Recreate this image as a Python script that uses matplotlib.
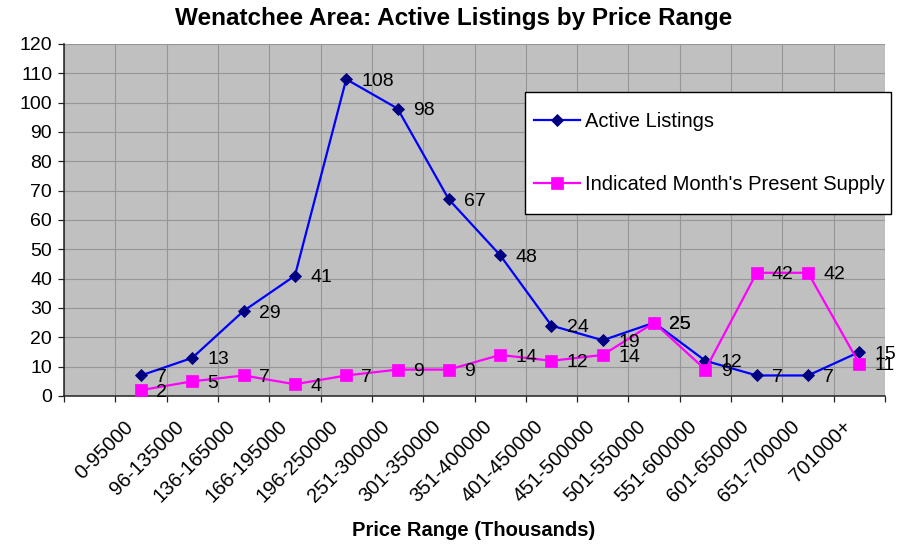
import numpy as np
import matplotlib
matplotlib.use("Agg")
import matplotlib.pyplot as plt
from matplotlib.patches import Rectangle
from matplotlib.transforms import ScaledTranslation

plt.rcParams['font.family'] = ['Liberation Sans', 'DejaVu Sans']

# the chart keeps an empty first category slot
categories = ['', '0-95000', '96-135000', '136-165000', '166-195000', '196-250000',
              '251-300000', '301-350000', '351-400000', '401-450000', '451-500000',
              '501-550000', '551-600000', '601-650000', '651-700000', '701000+']
active_listings = [np.nan, 7, 13, 29, 41, 108, 98, 67, 48, 24, 19, 25, 12, 7, 7, 15]
months_supply = [np.nan, 2, 5, 7, 4, 7, 9, 9, 14, 12, 14, 25, 9, 42, 42, 11]
y_ticks = list(range(0, 121, 10))

W, H = 906, 546
fig = plt.figure(figsize=(W / 100, H / 100), dpi=100)
ax = fig.add_axes([64 / W, 150 / H, 821 / W, 352 / H])
ax.set_facecolor('#C0C0C0')

n = len(categories)
x = np.arange(n) + 0.5

l1, = ax.plot(x, active_listings, color='#0000FF', lw=1.6, marker='D', ms=5.8,
              mfc='#000080', mec='#000080', mew=0.6, zorder=3, label='Active Listings')
l2, = ax.plot(x, months_supply, color='#FF00FF', lw=1.6, marker='s', ms=8.5,
              mfc='#FF00FF', mec='#FF00FF', mew=0.5, zorder=4,
              label="Indicated Month's Present Supply")

for series in (active_listings, months_supply):
    for xi, v in zip(x, series):
        if np.isnan(v):
            continue
        ax.annotate(str(int(v)), (xi, v), xytext=(11, -1.5), textcoords='offset points',
                    ha='left', va='center', fontsize=14, color='black', zorder=5)

ax.set_xlim(0, n)
ax.set_ylim(0, 120)
ax.set_yticks(y_ticks)
ax.set_xticks(np.arange(n + 1))
ax.set_xticklabels([])
ax.set_xticks(x[1:], minor=True)
ax.set_xticklabels(categories[1:], minor=True)

ax.grid(True, which='major', color='#969696', lw=0.8, zorder=1)
ax.set_axisbelow(True)

for s in ('top', 'right'):
    ax.spines[s].set_visible(False)
for s in ('left', 'bottom'):
    ax.spines[s].set_color('#222222')
    ax.spines[s].set_linewidth(1.1)

ax.tick_params(axis='y', direction='out', length=4.5, width=0.9, color='#222222',
               labelsize=14, pad=4)
ax.tick_params(axis='x', which='major', direction='out', length=4.5, width=0.9,
               color='#222222')
ax.tick_params(axis='x', which='minor', length=0, pad=20, labelsize=14.5)

shift = ScaledTranslation(-11 / 100, 0, fig.dpi_scale_trans)
for lab in ax.get_xticklabels(minor=True):
    lab.set_rotation(45)
    lab.set_ha('right')
    lab.set_va('center')
    lab.set_rotation_mode('anchor')
    lab.set_transform(lab.get_transform() + shift)

fig.text(454 / W, 1 - 18 / H, 'Wenatchee Area: Active Listings by Price Range',
         ha='center', va='center', fontsize=17.5, fontweight='bold')
fig.text(474 / W, 1 - 531 / H, 'Price Range (Thousands)',
         ha='center', va='center', fontsize=14.5, fontweight='bold')

# legend box sits partly outside the plot area
box = Rectangle((525 / W, 1 - 214 / H), 366 / W, 122 / H, transform=fig.transFigure,
                facecolor='white', edgecolor='black', lw=1, zorder=3)
fig.patches.append(box)
fig.legend(handles=[l1, l2], loc='center left', bbox_to_anchor=(534 / W, 1 - 153 / H),
           frameon=False, fontsize=14.5, borderpad=0, borderaxespad=0,
           handlelength=2.3, handletextpad=0.25, labelspacing=2.2, numpoints=1)

fig.savefig('out.png', dpi=100)
